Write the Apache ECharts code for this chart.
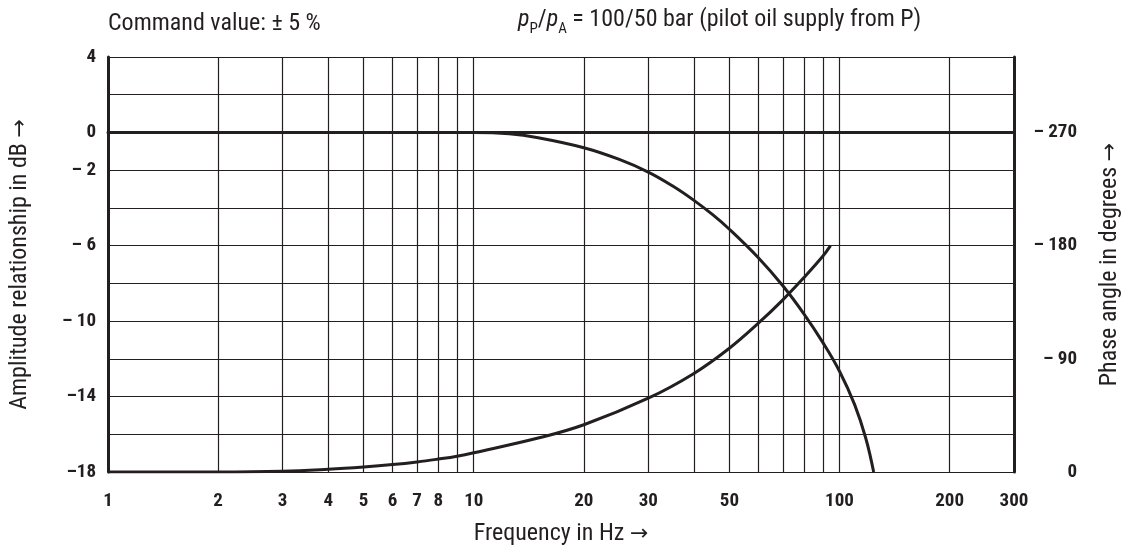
<!DOCTYPE html>
<html>
<head>
<meta charset="utf-8">
<script src="https://cdn.jsdelivr.net/npm/echarts@6/dist/echarts.min.js"></script>
<style>
  html, body { margin: 0; padding: 0; background: #fff; }
  #chart { width: 1131px; height: 551px; }
</style>
</head>
<body>
<div id="chart"></div>
<script>
// amplitude curve (Hz -> dB)
const ampFreq = [1, 10, 12.5, 15, 20, 25, 30, 35, 40, 45, 50, 60, 70, 80, 90, 100, 110, 118, 124]
const ampDb = [0, 0, -0.07, -0.28, -0.81, -1.43, -2.1, -2.84, -3.6, -4.36, -5.13, -6.64, -8.13, -9.63, -11.13, -12.66, -14.43, -16.21, -18]
// phase curve (Hz -> degrees)
const phaseFreq = [1, 2, 3, 4, 5, 6, 7, 8, 9, 10, 15, 20, 30, 40, 50, 60, 70, 80, 90, 94.5]
const phaseDeg = [0, 0, 0.6, 2.2, 4.0, 5.9, 8.0, 10.3, 12.6, 15.3, 27.0, 37.6, 58.7, 78.4, 98.4, 118.3, 136.9, 154.7, 171.5, 180]

// axes
const gridFreqs = [1, 2, 3, 4, 5, 6, 7, 8, 9, 10, 20, 30, 40, 50, 60, 70, 80, 90, 100, 200, 300]
const freqLabels = [1, 2, 3, 4, 5, 6, 7, 8, 10, 20, 30, 50, 100, 200, 300]
const dbLabels = [4, 0, -2, -6, -10, -14, -18]
const dbLabelText = ['4', '0', '– 2', '– 6', '– 10', '–14', '–18']
const phaseLabels = [0, 90, 180, 270]
const phaseLabelText = ['0', '– 90', '– 180', '– 270']

const ink = '#231f20'
const font = "'Roboto Condensed', Roboto, sans-serif"

const myChart = echarts.init(document.getElementById('chart'))

const boldLabel = {
  color: ink,
  fontFamily: font,
  fontWeight: 'bold',
  fontSize: 19
}
// arrow glyph from DejaVu, it is longer
const nameStyle = {
  color: ink,
  fontFamily: font,
  fontSize: 24,
  rich: {
    a: { fontFamily: 'DejaVu Sans', fontSize: 22, color: ink }
  }
}

let option = {
  animation: false,
  grid: {
    left: 105,
    right: 117,
    top: 57,
    bottom: 79
  },
  xAxis: {
    type: 'log',
    logBase: 10,
    min: 1,
    max: 300,
    name: 'Frequency in Hz {a|→}',
    nameLocation: 'middle',
    nameGap: 50,
    nameTextStyle: nameStyle,
    axisLine: { lineStyle: { color: ink, width: 3 } },
    axisTick: { show: false, customValues: gridFreqs },
    axisLabel: Object.assign({
      customValues: freqLabels,
      margin: 20,
      formatter: v => String(Math.round(v))
    }, boldLabel),
    splitLine: { show: true, lineStyle: { color: ink, width: 1.2 } },
    minorSplitLine: { show: false }
  },
  yAxis: [
    {
      type: 'value',
      min: -18,
      max: 4,
      interval: 2,
      name: 'Amplitude relationship in dB {a|→}',
      nameLocation: 'middle',
      nameRotate: 90,
      nameGap: 76,
      nameTextStyle: nameStyle,
      axisLine: { show: true, lineStyle: { color: ink, width: 3 } },
      axisTick: { show: false },
      axisLabel: Object.assign({
        customValues: dbLabels,
        margin: 12,
        formatter: v => dbLabelText[dbLabels.indexOf(v)]
      }, boldLabel),
      splitLine: { show: true, lineStyle: { color: ink, width: 1.2 } }
    },
    {
      type: 'value',
      min: 0,
      max: 330,
      interval: 30,
      position: 'right',
      name: 'Phase angle in degrees {a|→}',
      nameLocation: 'middle',
      nameRotate: 90,
      nameGap: 84,
      nameTextStyle: nameStyle,
      axisLine: { show: true, lineStyle: { color: ink, width: 3 } },
      axisTick: { show: false },
      axisLabel: Object.assign({
        customValues: phaseLabels,
        margin: 63,
        align: 'right',
        formatter: v => phaseLabelText[phaseLabels.indexOf(v)]
      }, boldLabel),
      splitLine: { show: false }
    }
  ],
  graphic: [
    {
      type: 'text',
      left: 108,
      top: 12,
      style: {
        text: 'Command value: ± 5 %',
        fill: ink,
        font: '24px ' + font
      }
    },
    {
      type: 'text',
      left: 518,
      top: 8,
      style: {
        text: '{i|p}{s|P}{n|/}{i|p}{s|A}{n| = 100/50 bar (pilot oil supply from P)}',
        fill: ink,
        rich: {
          n: { fontFamily: font, fontSize: 24, lineHeight: 34, verticalAlign: 'middle' },
          i: { fontFamily: font, fontSize: 24, fontStyle: 'italic', lineHeight: 34, verticalAlign: 'middle' },
          s: { fontFamily: font, fontSize: 15, lineHeight: 34, verticalAlign: 'bottom' }
        }
      }
    }
  ],
  series: [
    {
      name: 'Amplitude',
      type: 'line',
      yAxisIndex: 0,
      smooth: 0.4,
      showSymbol: false,
      lineStyle: { color: ink, width: 3 },
      data: ampFreq.map((f, i) => [f, ampDb[i]])
    },
    {
      name: 'Phase',
      type: 'line',
      yAxisIndex: 1,
      smooth: 0.4,
      showSymbol: false,
      lineStyle: { color: ink, width: 3 },
      data: phaseFreq.map((f, i) => [f, phaseDeg[i]])
    }
  ]
}

myChart.setOption(option)
</script>
</body>
</html>
